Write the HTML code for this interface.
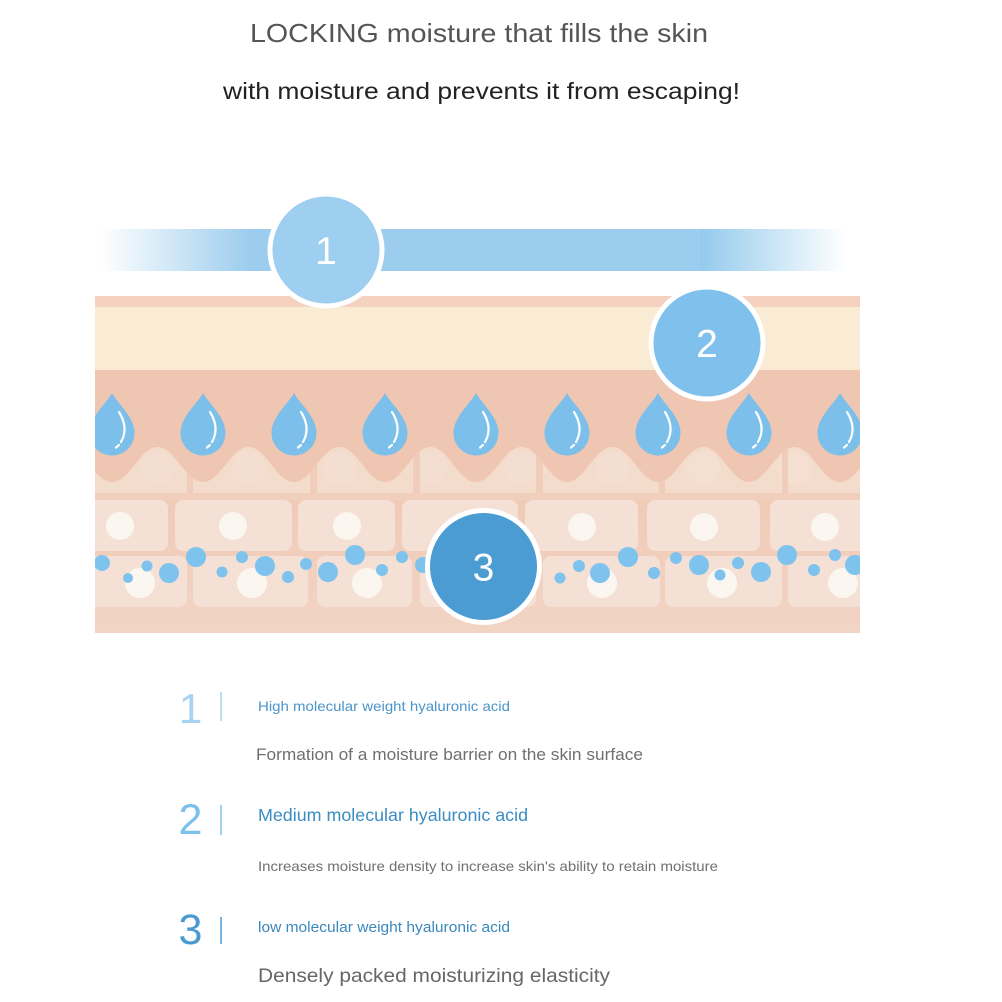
<!DOCTYPE html>
<html><head><meta charset="utf-8">
<style>
html,body{margin:0;padding:0;background:#fff;}
svg{display:block;}
text{font-family:"Liberation Sans",Arial,sans-serif;}
</style></head>
<body>
<svg width="1002" height="1002" viewBox="0 0 1002 1002" xmlns="http://www.w3.org/2000/svg">
<defs>
  <linearGradient id="barL" x1="100" y1="0" x2="250" y2="0" gradientUnits="userSpaceOnUse">
    <stop offset="0" stop-color="#9dcdee" stop-opacity="0"/>
    <stop offset="1" stop-color="#9dcdee" stop-opacity="1"/>
  </linearGradient>
  <linearGradient id="barR" x1="700" y1="0" x2="845" y2="0" gradientUnits="userSpaceOnUse">
    <stop offset="0" stop-color="#93caed" stop-opacity="1"/>
    <stop offset="1" stop-color="#93caed" stop-opacity="0"/>
  </linearGradient>
  <linearGradient id="skinbg" x1="0" y1="370" x2="0" y2="633" gradientUnits="userSpaceOnUse">
    <stop offset="0" stop-color="#efc5b0"/>
    <stop offset="0.45" stop-color="#f0cab6"/>
    <stop offset="1" stop-color="#f2d4c4"/>
  </linearGradient>
  <clipPath id="skinclip"><rect x="95" y="296" width="765" height="337"/></clipPath>
  <clipPath id="waveclip">
    <path d="M21,482 C39,482 48.5,447 66.5,447
    S94,482 112,482 S139.5,447 157.5,447
    S185,482 203,482 S230.5,447 248.5,447
    S276,482 294,482 S321.5,447 339.5,447
    S367,482 385,482 S412.5,447 430.5,447
    S458,482 476,482 S503.5,447 521.5,447
    S549,482 567,482 S594.5,447 612.5,447
    S640,482 658,482 S685.5,447 703.5,447
    S731,482 749,482 S776.5,447 794.5,447
    S822,482 840,482 S867.5,447 885.5,447
    S913,482 931,482 L931,493 L21,493 Z"/>
  </clipPath>
  <g id="drop">
    <path d="M0,393 C6,404 22.5,417 22.5,433 A22.5 22.5 0 0 1 -22.5,433 C-22.5,417 -6,404 0,393 Z" fill="#7bbfea"/>
    <path d="M7,412 Q17,428 9,442" fill="none" stroke="#fff" stroke-width="2.2" stroke-linecap="round"/>
    <path d="M7,445 L4,447.5" fill="none" stroke="#fff" stroke-width="2.2" stroke-linecap="round"/>
  </g>
</defs>

<!-- Title -->
<text x="250" y="42" font-size="26" fill="#555" textLength="458" lengthAdjust="spacingAndGlyphs">LOCKING moisture that fills the skin</text>
<text x="223" y="99" font-size="23" fill="#222" textLength="517" lengthAdjust="spacingAndGlyphs">with moisture and prevents it from escaping!</text>

<!-- Blue bar -->
<rect x="100" y="229" width="150" height="42" fill="url(#barL)"/>
<rect x="250" y="229" width="450" height="42" fill="#9dcdee"/>
<rect x="700" y="229" width="145" height="42" fill="url(#barR)"/>

<!-- Skin -->
<g clip-path="url(#skinclip)">
  <rect x="95" y="296" width="765" height="337" fill="url(#skinbg)"/>
  <rect x="95" y="296" width="765" height="11" fill="#f4d2bf"/>
  <rect x="95" y="307" width="765" height="63" fill="#f9ebd4"/>
  <rect x="95" y="370" width="765" height="125" fill="#efc6b1"/>

  <!-- wavy row -->
  <g clip-path="url(#waveclip)">
    <rect x="21" y="440" width="910" height="55" fill="#f4dccd"/>
    <g fill="#f5e1d5" opacity="0.55">
      <circle cx="157.5" cy="468" r="17"/><circle cx="248.5" cy="468" r="17"/>
      <circle cx="339.5" cy="468" r="17"/><circle cx="430.5" cy="468" r="17"/>
      <circle cx="521.5" cy="468" r="17"/><circle cx="612.5" cy="468" r="17"/>
      <circle cx="703.5" cy="468" r="17"/><circle cx="794.5" cy="468" r="17"/>
    </g>
    <g fill="#f0cdba">
      <rect x="187" y="440" width="6" height="55"/>
      <rect x="310" y="440" width="7" height="55"/>
      <rect x="413" y="440" width="7" height="55"/>
      <rect x="536" y="440" width="7" height="55"/>
      <rect x="659" y="440" width="6" height="55"/>
      <rect x="782" y="440" width="6" height="55"/>
    </g>
  </g>
  <rect x="95" y="493" width="765" height="7" fill="#f1cfbc"/>

  <!-- row 2 cells -->
  <g fill="#f5e0d5">
    <rect x="80" y="500" width="88" height="51" rx="8"/>
    <rect x="175" y="500" width="117" height="51" rx="8"/>
    <rect x="298" y="500" width="97" height="51" rx="8"/>
    <rect x="402" y="500" width="116" height="51" rx="8"/>
    <rect x="525" y="500" width="113" height="51" rx="8"/>
    <rect x="647" y="500" width="113" height="51" rx="8"/>
    <rect x="770" y="500" width="110" height="51" rx="8"/>
  </g>
  <!-- row 3 cells -->
  <g fill="#f5e0d5">
    <rect x="80" y="556" width="107" height="51" rx="8"/>
    <rect x="193" y="556" width="115" height="51" rx="8"/>
    <rect x="317" y="556" width="95" height="51" rx="8"/>
    <rect x="420" y="556" width="116" height="51" rx="8"/>
    <rect x="543" y="556" width="117" height="51" rx="8"/>
    <rect x="665" y="556" width="117" height="51" rx="8"/>
    <rect x="788" y="556" width="92" height="51" rx="8"/>
  </g>
  <!-- nuclei -->
  <g fill="#fbf6ef">
    <circle cx="120" cy="526" r="14"/><circle cx="233" cy="526" r="14"/>
    <circle cx="347" cy="526" r="14"/><circle cx="465" cy="526" r="14"/>
    <circle cx="582" cy="527" r="14"/><circle cx="704" cy="527" r="14"/>
    <circle cx="825" cy="527" r="14"/>
    <circle cx="140" cy="583" r="15"/><circle cx="252" cy="583" r="15"/>
    <circle cx="367" cy="583" r="15"/><circle cx="485" cy="583" r="15"/>
    <circle cx="602" cy="583" r="15"/><circle cx="722" cy="583" r="15"/>
    <circle cx="843" cy="583" r="15"/>
  </g>
  <!-- blue dots -->
  <g fill="#7ec2ee">
    <circle cx="102" cy="563" r="8"/><circle cx="128" cy="578" r="5"/>
    <circle cx="147" cy="566" r="5.5"/><circle cx="169" cy="573" r="10"/>
    <circle cx="196" cy="557" r="10"/><circle cx="222" cy="572" r="5.5"/>
    <circle cx="242" cy="557" r="6"/><circle cx="265" cy="566" r="10"/>
    <circle cx="288" cy="577" r="6"/><circle cx="306" cy="564" r="6"/>
    <circle cx="328" cy="572" r="10"/><circle cx="355" cy="555" r="10"/>
    <circle cx="382" cy="570" r="6"/><circle cx="402" cy="557" r="6"/>
    <circle cx="423" cy="565" r="8"/>
    <circle cx="560" cy="578" r="5.5"/><circle cx="579" cy="566" r="6"/>
    <circle cx="600" cy="573" r="10"/><circle cx="628" cy="557" r="10"/>
    <circle cx="654" cy="573" r="6"/><circle cx="676" cy="558" r="6"/>
    <circle cx="699" cy="565" r="10"/><circle cx="720" cy="575" r="5.5"/>
    <circle cx="738" cy="563" r="6"/><circle cx="761" cy="572" r="10"/>
    <circle cx="787" cy="555" r="10"/><circle cx="814" cy="570" r="6"/>
    <circle cx="835" cy="555" r="6"/><circle cx="855" cy="565" r="10"/>
  </g>
  <!-- drops -->
  <use href="#drop" x="112"/><use href="#drop" x="203"/><use href="#drop" x="294"/>
  <use href="#drop" x="385"/><use href="#drop" x="476"/><use href="#drop" x="567"/>
  <use href="#drop" x="658"/><use href="#drop" x="749"/><use href="#drop" x="840"/>
</g>

<!-- numbered circles -->
<circle cx="326" cy="250" r="56" fill="#9ecff0" stroke="#fff" stroke-width="5"/>
<text x="326" y="264" font-size="39" fill="#fff" text-anchor="middle">1</text>
<circle cx="707" cy="343" r="56" fill="#7fc1ec" stroke="#fff" stroke-width="5"/>
<text x="707" y="357" font-size="39" fill="#fff" text-anchor="middle">2</text>
<circle cx="483.5" cy="566.5" r="56" fill="#4a9cd2" stroke="#fff" stroke-width="5"/>
<text x="483.5" y="580.5" font-size="39" fill="#fff" text-anchor="middle">3</text>

<!-- list -->
<text x="190.5" y="723" font-size="42" fill="#a6d3f1" text-anchor="middle">1</text>
<line x1="221" y1="692" x2="221" y2="721" stroke="#a6d3f1" stroke-width="1.5"/>
<text x="258" y="711" font-size="14" fill="#4a94c8" textLength="252" lengthAdjust="spacingAndGlyphs">High molecular weight hyaluronic acid</text>
<text x="256" y="760" font-size="17" fill="#6f6f6f" textLength="387" lengthAdjust="spacingAndGlyphs">Formation of a moisture barrier on the skin surface</text>

<text x="190.5" y="834" font-size="43" fill="#7cc0ec" text-anchor="middle">2</text>
<line x1="221" y1="805" x2="221" y2="835" stroke="#7cc0ec" stroke-width="1.5"/>
<text x="258" y="821" font-size="17.5" fill="#3a8cc2" textLength="270" lengthAdjust="spacingAndGlyphs">Medium molecular hyaluronic acid</text>
<text x="258" y="871" font-size="14" fill="#707070" textLength="460" lengthAdjust="spacingAndGlyphs">Increases moisture density to increase skin's ability to retain moisture</text>

<text x="190.5" y="944" font-size="43" fill="#4a9ad0" text-anchor="middle">3</text>
<line x1="221" y1="917" x2="221" y2="944" stroke="#4a9ad0" stroke-width="1.5"/>
<text x="258" y="932" font-size="14.5" fill="#3a88bd" textLength="252" lengthAdjust="spacingAndGlyphs">low molecular weight hyaluronic acid</text>
<text x="258" y="982" font-size="19.5" fill="#666" textLength="352" lengthAdjust="spacingAndGlyphs">Densely packed moisturizing elasticity</text>
</svg>
</body></html>
